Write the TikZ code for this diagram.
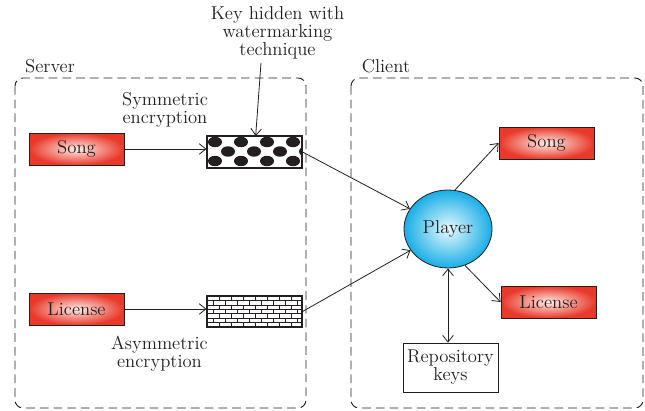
\documentclass[tikz,border=0pt]{standalone}
\usepackage{fontspec}
\usepackage{xcolor}
\usepackage{tikz}
\usetikzlibrary{shapes,arrows.meta,positioning,calc}

\definecolor{boxred}{RGB}{232,57,42}
\definecolor{boxpink}{RGB}{255,238,232}
\definecolor{playerblue}{RGB}{24,174,230}
\definecolor{playerlight}{RGB}{232,249,254}
\definecolor{ink}{RGB}{35,31,32}

\tikzset{
    groupbox/.style={draw=ink, line width=0.7pt, rounded corners=6pt, dash pattern=on 6.5pt off 3.8pt},
    redbox/.style={draw=ink, line width=0.6pt, inner color=boxpink, outer color=boxred, minimum width=71.25pt, minimum height=24pt, inner sep=1pt},
    encbox/.style={draw=ink, line width=0.8pt, fill=white, minimum width=71.25pt, minimum height=23.25pt, inner sep=0pt},
    playernode/.style={ellipse, draw=ink, line width=0.6pt, inner color=playerlight, outer color=playerblue, minimum width=66pt, minimum height=58.5pt, inner sep=0pt},
    keybox/.style={draw=ink, line width=0.6pt, fill=white, minimum width=71.25pt, minimum height=36.75pt, inner sep=1pt, align=center}
}

\begin{document}
\begin{tikzpicture}[x=0.75pt, y=-0.75pt, font=\fontsize{14}{13.5}\selectfont, color=ink, line width=0.6pt, >={Straight Barb[length=5pt,width=8pt]}]
    \useasboundingbox (0,0) rectangle (645,410);

    % Server
    \draw[groupbox] (15,78) rectangle (306,408);
    \node (server) at (50,66) {Server};
    \node[redbox] (songS) at (76.5,149) {Song};
    \node[redbox] (licS) at (76.5,309) {License};

    % Symmetric encryption (dots)
    \node[encbox] (sym) at (254.5,152) {};
    \begin{scope}
        \clip (sym.south west) rectangle (sym.north east);
        \foreach \y/\o in {142/0, 151.5/13, 161/0} {
            \foreach \x in {0,26,...,104} {
                \fill ({215+\o+\x}, \y) ellipse [x radius=7, y radius=5.2];
            }
        }
    \end{scope}
    \draw[line width=0.8pt] (sym.south west) rectangle (sym.north east);

    % Asymmetric encryption (bricks)
    \node[encbox] (asym) at (254.5,311.5) {};
    \begin{scope}[line width=0.5pt]
        \clip (asym.south west) rectangle (asym.north east);
        \foreach \k in {1,...,6} {
            \draw (207, {296+\k*4.43}) -- (302, {296+\k*4.43});
        }
        \foreach \k in {0,...,6} {
            \foreach \m in {0,...,8} {
                \draw ({207+6*mod(\k,2)+12*\m}, {296+\k*4.43}) -- ++(0,4.43);
            }
        }
    \end{scope}
    \draw[line width=0.8pt] (asym.south west) rectangle (asym.north east);

    % Labels
    \node[align=center] (keytext) at (277.5,33) {Key hidden with\\watermarking\\technique};
    \node[align=center] (symtext) at (165,110) {Symmetric\\encryption};
    \node[align=center] (asymtext) at (159.5,354) {Asymmetric\\encryption};

    % Client
    \draw[groupbox] (351,78) rectangle (643,408);
    \node (client) at (386,66) {Client};
    \node[playernode] (player) at (448,229) {Player};
    \node[redbox] (songC) at (546.5,143) {Song};
    \node[redbox] (licC) at (548.5,302) {License};
    \node[keybox] (repo) at (450.5,367.5) {Repository\\keys};

    % Connectors
    \coordinate (keytip) at (261,63);
    \draw[->] (keytip) -- (sym);
    \draw[->] (songS.east) -- (songS.east -| sym.west);
    \draw[->] (licS.east) -- (licS.east -| asym.west);
    \draw[->] (sym.east) -- (player);
    \draw[->] (asym.east) -- (player);
    \draw[->] (player.80) -- (songC.west);
    \draw[->] (player.-65) -- (licC.west);
    \draw[<->] (player.south) -- (player.south |- repo.north);
\end{tikzpicture}
\end{document}
